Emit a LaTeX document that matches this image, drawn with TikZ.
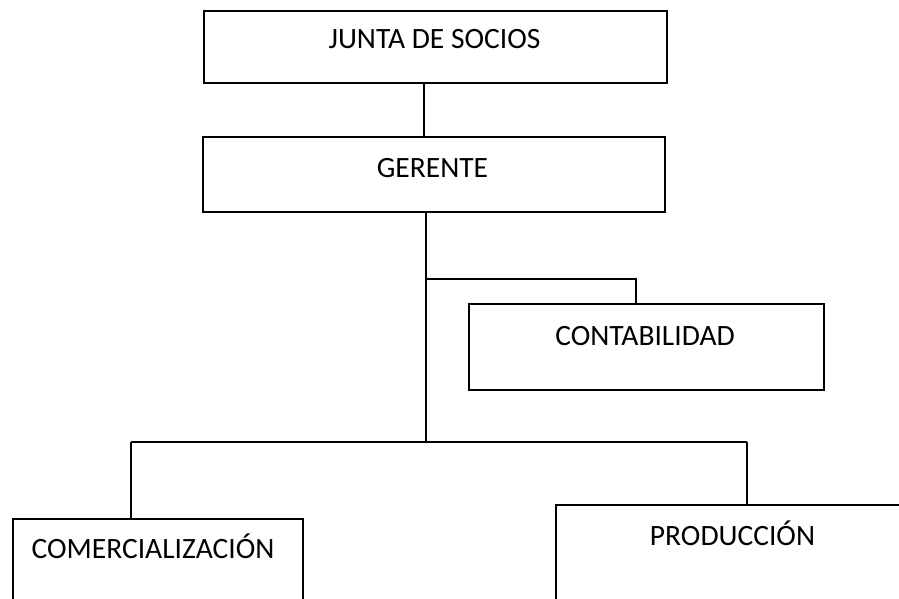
\documentclass[tikz,border=0pt]{standalone}
\usepackage{fontspec}
\setmainfont{Carlito}
\begin{document}
\begin{tikzpicture}[x=1pt,y=-1pt,line width=1.6pt,
  orgbox/.style={draw=black,rectangle,inner sep=0pt,anchor=north west},
  boxtext/.style={font=\fontsize{29.5}{35}\selectfont,anchor=base,inner sep=0pt}]
\useasboundingbox (0,0) rectangle (899,599);
\clip (0,0) rectangle (899,599);
% boxes
\node[orgbox,minimum width=463pt,minimum height=72pt] (junta) at (203,10) {};
\node[orgbox,minimum width=462pt,minimum height=75pt] (gerente) at (202,136) {};
\node[orgbox,minimum width=355pt,minimum height=86pt] (conta) at (468,303) {};
\node[orgbox,minimum width=290pt,minimum height=120pt] (comer) at (12,518) {};
\node[orgbox,minimum width=400pt,minimum height=140pt] (prod) at (555,504) {};
% texts
\node[boxtext] (tjunta) at (434.5,49) {JUNTA DE SOCIOS};
\node[boxtext] (tger) at (432.5,177) {GERENTE};
\node[boxtext] (tconta) at (645,345) {CONTABILIDAD};
\node[boxtext] (tcomer) at (153,558) {COMERCIALIZACIÓN};
\node[boxtext] (tprod) at (732.5,545) {PRODUCCIÓN};
% connectors
\coordinate (jg) at (424,82);
\coordinate (gb) at (426,211);
\coordinate (hc) at (426,279);
\coordinate (hb) at (426,442);
\coordinate (cl) at (131,442);
\coordinate (cr) at (747,442);
\draw (jg) -- (jg |- gerente.north);
\draw (gb) -- (hb);
\draw (hc) -- (636,279) -- (636,303);
\draw (cl) -- (cr);
\draw (cl) -- (cl |- comer.north);
\draw (cr) -- (cr |- prod.north);
\end{tikzpicture}
\end{document}
